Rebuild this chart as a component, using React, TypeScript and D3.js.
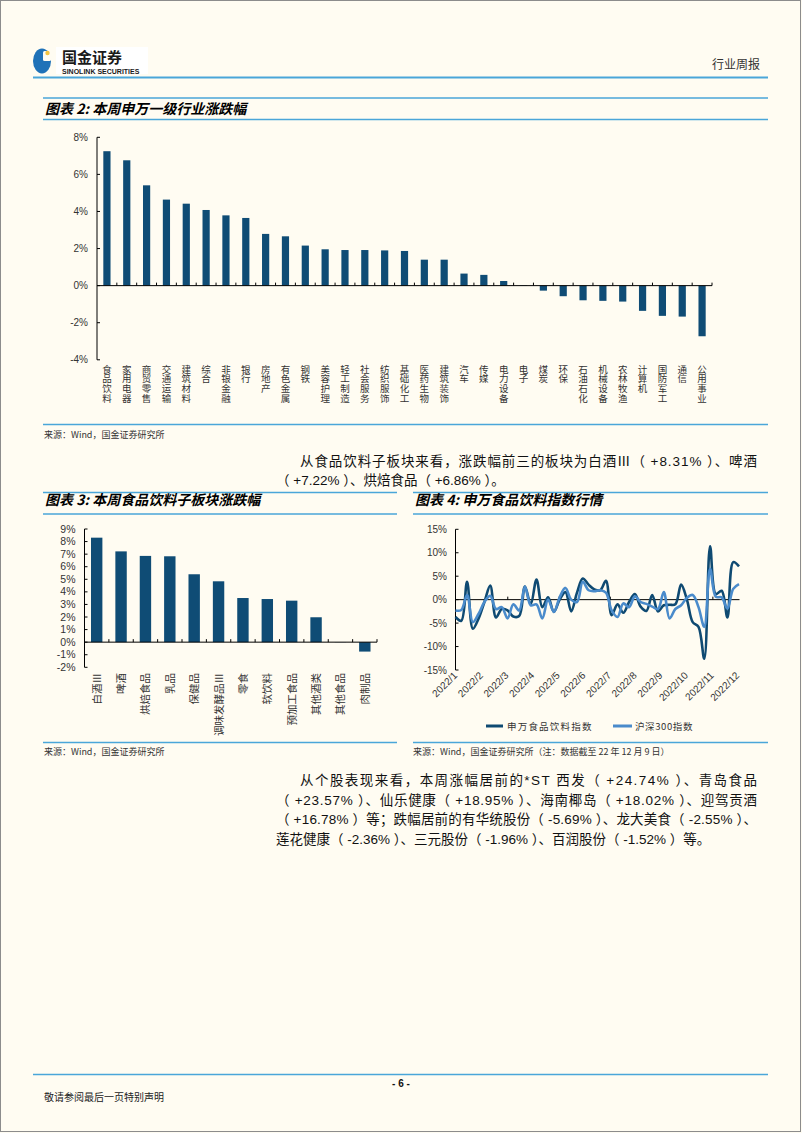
import React from 'react';
import * as d3 from 'd3';

const industryNames = ['食品饮料','家用电器','商贸零售','交通运输','建筑材料','综合','非银金融','银行','房地产','有色金属','钢铁','美容护理','轻工制造','社会服务','纺织服饰','基础化工','医药生物','建筑装饰','汽车','传媒','电力设备','电子','煤炭','环保','石油石化','机械设备','农林牧渔','计算机','国防军工','通信','公用事业'];
const industryChange = [7.25,6.76,5.41,4.64,4.42,4.08,3.79,3.65,2.79,2.66,2.16,1.96,1.92,1.92,1.90,1.87,1.40,1.40,0.65,0.58,0.25,0.02,-0.27,-0.57,-0.79,-0.82,-0.86,-1.36,-1.63,-1.67,-2.73];
const industryTicks = [-4,-2,0,2,4,6,8];

const subNames = ['白酒Ⅲ','啤酒','烘焙食品','乳品','保健品','调味发酵品Ⅲ','零食','软饮料','预加工食品','其他酒类','其他食品','肉制品'];
const subChange = [8.31,7.22,6.86,6.83,5.40,4.84,3.51,3.43,3.30,1.98,0.01,-0.75];
const subTicks = [-2,-1,0,1,2,3,4,5,6,7,8,9];

const monthLabels = ['2022/1','2022/2','2022/3','2022/4','2022/5','2022/6','2022/7','2022/8','2022/9','2022/10','2022/11','2022/12'];
const foodIndex = [-3.7,-4.5,3.8,-6.2,-4.0,-0.5,3.0,-3.8,-2.0,-2.3,-3.6,-3.5,2.8,-1.0,4.3,-1.6,0.5,-2.6,0.0,1.6,-2.5,1.5,4.5,3.2,2.2,2.0,4.0,-3.3,-1.0,-2.8,-0.5,1.2,-1.5,-2.4,1.0,-2.5,-1.2,-1.1,-1.0,3.2,0.0,-4.8,-5.8,-12.6,11.4,1.2,1.9,-3.8,8.0,7.1];
const hs300Index = [-2.3,-2.2,1.0,-4.8,-3.0,-0.5,0.8,-2.0,-1.6,-4.0,-1.0,-2.3,2.8,-1.2,-1.0,-4.0,0.0,-2.6,0.5,2.5,0.0,-0.5,3.8,2.0,1.8,2.0,1.5,-2.3,-3.7,-0.8,-1.6,0.7,-0.5,-0.9,-1.5,-2.0,1.6,-4.0,-2.0,-1.2,0.4,1.0,-1.6,-5.8,6.6,0.6,0.5,-1.9,2.3,3.3];
const lineTicks = [-15,-10,-5,0,5,10,15];

const BLUE_RULE = '#4aa6d9';
const BAR = '#0f4c75';
const DARK = '#0f4a72';
const LIGHT = '#4a8bcb';
const CJK = '"Noto Sans CJK SC", sans-serif';
const LAT = '"Liberation Sans", Arial, "Noto Sans CJK SC", sans-serif';

export default function App() {
  const x2 = d3.scaleBand<string>().domain(industryNames).range([97, 712]).padding(0);
  const y2 = d3.scaleLinear().domain([-4, 8]).range([359.8, 137.3]);
  const x3 = d3.scaleBand<string>().domain(subNames).range([84.5, 377]).padding(0);
  const y3 = d3.scaleLinear().domain([-2, 9]).range([667.3, 529]);
  const x4 = d3.scaleLinear().domain([0, foodIndex.length - 1]).range([455.5, 739]);
  const y4 = d3.scaleLinear().domain([-15, 15]).range([670, 529.3]);
  const line = d3.line<number>().x((_, i) => x4(i)).y(d => y4(d)).curve(d3.curveCatmullRom.alpha(0.5));
  const monthX = d3.scaleLinear().domain([0, monthLabels.length - 1]).range([458, 740]);

  const para1 = [
    { t: '从食品饮料子板块来看，涨跌幅前三的板块为白酒Ⅲ（ +8.31% ）、啤酒', x: 300, y: 466, w: 457 },
    { t: '（ +7.22% ）、烘焙食品（ +6.86% ）。', x: 276, y: 485, w: 0 },
  ];
  const para2 = [
    { t: '从个股表现来看，本周涨幅居前的*ST 西发（ +24.74% ）、青岛食品', x: 300, y: 785, w: 457 },
    { t: '（ +23.57% ）、仙乐健康（ +18.95% ）、海南椰岛（ +18.02% ）、迎驾贡酒', x: 276, y: 804.5, w: 481 },
    { t: '（ +16.78% ）等；跌幅居前的有华统股份（ -5.69% ）、龙大美食（ -2.55% ）、', x: 276, y: 824, w: 481 },
    { t: '莲花健康（ -2.36% ）、三元股份（ -1.96% ）、百润股份（ -1.52% ）等。', x: 276, y: 843.5, w: 0 },
  ];

  return (
    <div style={{ position: 'absolute', left: 0, top: 0, width: 802, height: 1133 }}>
      <svg width={802} height={1133} style={{ display: 'block' }}>
        <rect x={0} y={0} width={802} height={1133} fill="#fffcf2" />
        <rect x={0.5} y={0.5} width={800} height={1131} fill="none" stroke="#8c8c8c" strokeWidth={1} />

        {/* Header logo */}
        <rect x={56} y={47} width={92} height={27} fill="#ffffff" />
        <ellipse cx={42} cy={61} rx={9} ry={12.5} fill="#1f72b8" />
        <rect x={43} y={51} width={8} height={10} rx={1.5} fill="#fffcf2" />
        <circle cx={47.5} cy={53} r={2.2} fill="#f4c542" />
        <text x={62} y={62.5} fontFamily={CJK} fontWeight={700} fontSize={15} fill="#1a1a1a">国金证券</text>
        <text x={62} y={74} fontFamily={LAT} fontWeight={700} fontSize={7} fill="#1a1a1a">SINOLINK SECURITIES</text>
        <text x={760} y={68.5} textAnchor="end" fontFamily={CJK} fontSize={12} fill="#333">行业周报</text>
        <line x1={33} x2={768} y1={77.5} y2={77.5} stroke={BLUE_RULE} strokeWidth={2} />

        {/* Title chart 2 */}
        <line x1={43} x2={768} y1={98} y2={98} stroke={BLUE_RULE} strokeWidth={1.5} />
        <text x={45} y={113.5} fontFamily={CJK} fontWeight={700} fontStyle="italic" fontSize={14} fill="#000">图表 2: 本周申万一级行业涨跌幅</text>
        <line x1={43} x2={768} y1={119.5} y2={119.5} stroke={BLUE_RULE} strokeWidth={1.5} />

        {/* Chart 2 */}
        <g>
          <line x1={97} x2={97} y1={y2(8)} y2={y2(-4)} stroke="#000" strokeWidth={1} />
          {industryTicks.map(t => (
            <g key={t}>
              <line x1={97} x2={100} y1={y2(t)} y2={y2(t)} stroke="#000" />
              <text x={88} y={y2(t) + 3.5} textAnchor="end" fontFamily={LAT} fontSize={10} fill="#333">{t}%</text>
            </g>
          ))}
          {industryNames.map((c, i) => {
            const cx = (x2(c) as number) + x2.bandwidth() / 2;
            const v = industryChange[i];
            return (
              <g key={c}>
                <rect x={cx - 3.6} width={7.2} y={Math.min(y2(v), y2(0))} height={Math.abs(y2(v) - y2(0))} fill={BAR} />
                <text x={cx} y={364.5} fontFamily={CJK} fontSize={9.5} letterSpacing={0.1} fill="#333"
                  style={{ writingMode: 'vertical-rl' }}>{c}</text>
              </g>
            );
          })}
          <line x1={97} x2={712} y1={y2(0)} y2={y2(0)} stroke="#000" strokeWidth={1} />
          {industryNames.map((c, i) => (
            <line key={'t' + i} x1={(x2(c) as number) + x2.bandwidth()} x2={(x2(c) as number) + x2.bandwidth()} y1={y2(0)} y2={y2(0) - 3} stroke="#000" />
          ))}
        </g>

        {/* Source 1 */}
        <line x1={43} x2={768} y1={424.5} y2={424.5} stroke={BLUE_RULE} strokeWidth={1.5} />
        <text x={44} y={437.5} fontFamily={CJK} fontSize={9} fill="#333">来源：Wind，国金证券研究所</text>

        {/* Paragraph 1 */}
        {para1.map((p, i) => (
          <text key={i} x={p.x} y={p.y} fontFamily={LAT} fontSize={13.5} fill="#111"
            {...(p.w ? { textLength: p.w, lengthAdjust: 'spacing' } : {})}>{p.t}</text>
        ))}

        {/* Titles 3 & 4 */}
        <line x1={43} x2={397} y1={492.5} y2={492.5} stroke={BLUE_RULE} strokeWidth={1.5} />
        <line x1={413} x2={768} y1={492.5} y2={492.5} stroke={BLUE_RULE} strokeWidth={1.5} />
        <text x={45} y={505} fontFamily={CJK} fontWeight={700} fontStyle="italic" fontSize={14} fill="#000">图表 3: 本周食品饮料子板块涨跌幅</text>
        <text x={415} y={505} fontFamily={CJK} fontWeight={700} fontStyle="italic" fontSize={14} fill="#000">图表 4: 申万食品饮料指数行情</text>
        <line x1={43} x2={397} y1={514} y2={514} stroke={BLUE_RULE} strokeWidth={1.5} />
        <line x1={413} x2={768} y1={514} y2={514} stroke={BLUE_RULE} strokeWidth={1.5} />

        {/* Chart 3 */}
        <g>
          <line x1={84.5} x2={84.5} y1={y3(9)} y2={y3(-2)} stroke="#000" />
          {subTicks.map(t => (
            <g key={t}>
              <line x1={84.5} x2={87.5} y1={y3(t)} y2={y3(t)} stroke="#000" />
              <text x={75.5} y={y3(t) + 3.6} textAnchor="end" fontFamily={LAT} fontSize={10.5} fill="#333">{t}%</text>
            </g>
          ))}
          {subNames.map((c, i) => {
            const cx = (x3(c) as number) + x3.bandwidth() / 2;
            const v = subChange[i];
            return (
              <g key={c}>
                <rect x={cx - 5.7} width={11.4} y={Math.min(y3(v), y3(0))} height={Math.abs(y3(v) - y3(0))} fill={BAR} />
                <text transform={`translate(${cx + 4},673) rotate(-90)`} textAnchor="end" fontFamily={CJK} fontSize={10.5} fill="#333">{c}</text>
              </g>
            );
          })}
          <line x1={84.5} x2={377} y1={y3(0)} y2={y3(0)} stroke="#000" />
          {subNames.map((c, i) => (
            <line key={'t' + i} x1={(x3(c) as number) + x3.bandwidth()} x2={(x3(c) as number) + x3.bandwidth()} y1={y3(0)} y2={y3(0) - 3} stroke="#000" />
          ))}
        </g>

        {/* Chart 4 */}
        <g>
          <line x1={455.5} x2={455.5} y1={y4(15)} y2={y4(-15)} stroke="#000" />
          {lineTicks.map(t => (
            <g key={t}>
              <line x1={455.5} x2={458.5} y1={y4(t)} y2={y4(t)} stroke="#000" />
              <text x={447} y={y4(t) + 3.5} textAnchor="end" fontFamily={LAT} fontSize={10} fill="#333">{t}%</text>
            </g>
          ))}
          <line x1={455.5} x2={739.5} y1={y4(0)} y2={y4(0)} stroke="#000" />
          {[2, 4, 6, 8, 10].map(k => (
            <line key={k} x1={monthX(k) - 1.5} x2={monthX(k) - 1.5} y1={y4(0)} y2={y4(0) - 3} stroke="#000" />
          ))}
          <path d={line(foodIndex) || ''} fill="none" stroke={DARK} strokeWidth={2.6} strokeLinejoin="round" />
          <path d={line(hs300Index) || ''} fill="none" stroke={LIGHT} strokeWidth={2.6} strokeLinejoin="round" />
          {monthLabels.map((m, i) => (
            <text key={m} transform={`translate(${monthX(i)},676) rotate(-45)`} textAnchor="end" fontFamily={LAT} fontSize={10} fill="#333">{m}</text>
          ))}
          <line x1={486} x2={503} y1={726} y2={726} stroke={DARK} strokeWidth={3} />
          <text x={507} y={729.5} fontFamily={CJK} fontSize={9.5} letterSpacing={1.2} fill="#333">申万食品饮料指数</text>
          <line x1={613} x2={632} y1={726} y2={726} stroke={LIGHT} strokeWidth={3} />
          <text x={635} y={729.5} fontFamily={CJK} fontSize={9.5} letterSpacing={0.6} fill="#333">沪深300指数</text>
        </g>

        {/* Sources 3 & 4 */}
        <line x1={43} x2={397} y1={742.5} y2={742.5} stroke={BLUE_RULE} strokeWidth={1.5} />
        <line x1={413} x2={768} y1={742.5} y2={742.5} stroke={BLUE_RULE} strokeWidth={1.5} />
        <text x={44} y={755} fontFamily={CJK} fontSize={9} fill="#333">来源：Wind，国金证券研究所</text>
        <text x={413} y={755} fontFamily={CJK} fontSize={9} fill="#333">来源：Wind，国金证券研究所（注：数据截至 22 年 12 月 9 日）</text>

        {/* Paragraph 2 */}
        {para2.map((p, i) => (
          <text key={i} x={p.x} y={p.y} fontFamily={LAT} fontSize={13.5} fill="#111"
            {...(p.w ? { textLength: p.w, lengthAdjust: 'spacing' } : {})}>{p.t}</text>
        ))}

        {/* Footer */}
        <line x1={33} x2={768} y1={1074.5} y2={1074.5} stroke={BLUE_RULE} strokeWidth={1.5} />
        <text x={401} y={1087} textAnchor="middle" fontFamily={LAT} fontWeight={700} fontSize={10} fill="#111">- 6 -</text>
        <text x={44} y={1101} fontFamily={CJK} fontSize={10} fill="#222">敬请参阅最后一页特别声明</text>
      </svg>
    </div>
  );
}
